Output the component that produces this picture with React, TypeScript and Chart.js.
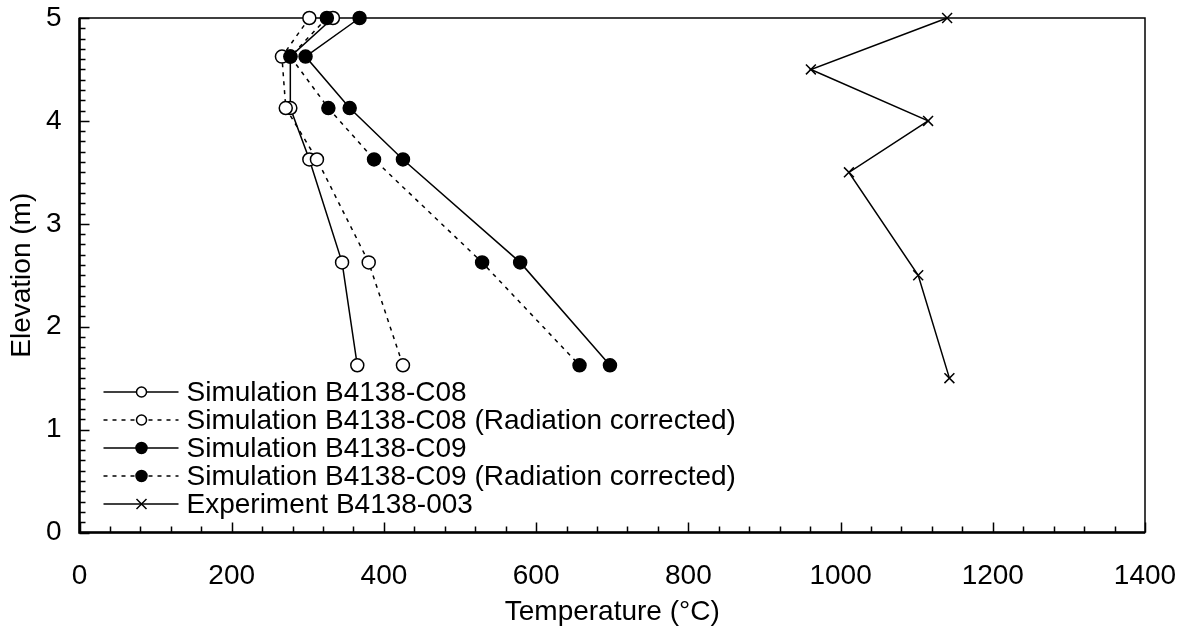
import React, { useEffect, useRef } from "react";
import { Chart, registerables } from "chart.js";
Chart.register(...registerables);

// ---- data ----
const elevSim = [5.0, 4.625, 4.125, 3.625, 2.625, 1.625];
const tempC08 = [333, 277, 277, 302, 345, 365];
const tempC08Rad = [302, 266, 271, 312, 380, 425];
const tempC09 = [368, 297, 355, 425, 579, 697];
const tempC09Rad = [325, 277, 327, 387, 529, 657];
const elevExp = [5.0, 4.5, 4.0, 3.5, 2.5, 1.5];
const tempExp = [1140, 961, 1115, 1011, 1102, 1143];

const seriesNames = [
  "Simulation B4138-C08",
  "Simulation B4138-C08 (Radiation corrected)",
  "Simulation B4138-C09",
  "Simulation B4138-C09 (Radiation corrected)",
  "Experiment B4138-003",
];

const xTicks = [0, 200, 400, 600, 800, 1000, 1200, 1400];
const yTicks = [0, 1, 2, 3, 4, 5];

const FAMILY = "'Liberation Sans', Arial, sans-serif";
const FS = 28;

const pts = (t: number[], e: number[]) => t.map((x, i) => ({ x, y: e[i] }));

export default function App() {
  const ref = useRef<HTMLCanvasElement>(null);
  useEffect(() => {
    document.body.style.margin = "0";
    const canvas = ref.current!;

    const dotted = [4, 5];
    const styles = [
      { dash: [] as number[], style: "circle", bg: "#fff" },
      { dash: dotted, style: "circle", bg: "#fff" },
      { dash: [] as number[], style: "circle", bg: "#000" },
      { dash: dotted, style: "circle", bg: "#000" },
      { dash: [] as number[], style: "crossRot", bg: "#000" },
    ];
    const datas = [
      pts(tempC08, elevSim),
      pts(tempC08Rad, elevSim),
      pts(tempC09, elevSim),
      pts(tempC09Rad, elevSim),
      pts(tempExp, elevExp),
    ];

    const framePlugin = {
      id: "frameTicks",
      beforeDatasetsDraw(chart: any) {
        const { ctx, chartArea: a, scales } = chart;
        const xs = scales.x, ys = scales.y;
        ctx.save();
        ctx.strokeStyle = "#000";
        ctx.lineWidth = 1.5;
        ctx.beginPath();
        for (let v = 0; v <= 1400 + 1e-6; v += 40) {
          const px = Math.round(xs.getPixelForValue(v)) + 0.5;
          const major = Math.abs(v / 200 - Math.round(v / 200)) < 1e-6;
          const len = major ? 10 : 6;
          ctx.moveTo(px, a.bottom);
          ctx.lineTo(px, a.bottom - len);
        }
        for (let k = 0; k <= 50; k++) {
          const v = k / 10;
          const py = Math.round(ys.getPixelForValue(v)) + 0.5;
          const len = k % 10 === 0 ? 10 : 6;
          ctx.moveTo(a.left, py);
          ctx.lineTo(a.left + len, py);
        }
        ctx.stroke();
        ctx.lineWidth = 1.5;
        ctx.strokeRect(a.left, a.top, a.right - a.left, a.bottom - a.top);
        ctx.lineWidth = 2.5;
        ctx.beginPath();
        ctx.moveTo(a.left, a.top);
        ctx.lineTo(a.left, a.bottom);
        ctx.lineTo(a.right, a.bottom);
        ctx.stroke();
        ctx.restore();
      },
    };

    const legendPlugin = {
      id: "customLegend",
      afterDatasetsDraw(chart: any) {
        const { ctx, chartArea: a } = chart;
        ctx.save();
        const x0 = a.left + 24;
        const x1 = a.left + 99;
        const xm = a.left + 62;
        const tx = a.left + 107;
        chart.data.datasets.forEach((ds: any, i: number) => {
          const y = a.bottom - 140.5 + i * 28;
          ctx.strokeStyle = "#000";
          ctx.lineWidth = 1.5;
          ctx.setLineDash(ds.borderDash || []);
          ctx.beginPath();
          ctx.moveTo(x0, y);
          ctx.lineTo(x1, y);
          ctx.stroke();
          ctx.setLineDash([]);
          if (ds.pointStyle === "crossRot") {
            const r = 5;
            ctx.beginPath();
            ctx.moveTo(xm - r, y - r);
            ctx.lineTo(xm + r, y + r);
            ctx.moveTo(xm - r, y + r);
            ctx.lineTo(xm + r, y - r);
            ctx.stroke();
          } else {
            ctx.beginPath();
            ctx.arc(xm, y, ds.pointBackgroundColor === "#fff" ? 5 : 5.5, 0, Math.PI * 2);
            ctx.fillStyle = ds.pointBackgroundColor;
            ctx.fill();
            ctx.stroke();
          }
          ctx.fillStyle = "#000";
          ctx.font = `${FS}px ${FAMILY}`;
          ctx.textBaseline = "middle";
          ctx.textAlign = "left";
          ctx.fillText(ds.label, tx, y + 1);
        });
        ctx.restore();
      },
    };

    const chart = new Chart(canvas, {
      type: "scatter",
      data: {
        datasets: datas.map((d, i) => ({
          label: seriesNames[i],
          data: d,
          showLine: true,
          borderColor: "#000",
          borderWidth: 1.5,
          borderDash: styles[i].dash,
          pointStyle: styles[i].style as any,
          pointRadius: styles[i].style === "crossRot" ? 7 : 6.5,
          pointBorderColor: "#000",
          pointBorderWidth: 1.5,
          pointBackgroundColor: styles[i].bg,
          clip: false as any,
          order: 5 - i,
        })),
      },
      options: {
        animation: false,
        responsive: false,
        events: [],
        layout: { padding: { top: 18, right: 40, left: 0, bottom: 0 } },
        plugins: { legend: { display: false }, tooltip: { enabled: false } },
        scales: {
          x: {
            type: "linear",
            min: 0,
            max: 1400,
            afterBuildTicks: (s: any) => {
              s.ticks = xTicks.map((v) => ({ value: v }));
            },
            afterFit: (s: any) => {
              s.height = 97.5;
              s.paddingLeft = 0;
              s.paddingRight = 0;
            },
            grid: { display: false, drawTicks: false },
            border: { display: false },
            ticks: {
              color: "#000",
              font: { family: FAMILY, size: FS },
              padding: 27,
              maxRotation: 0,
              callback: (v: any) => String(v),
            },
            title: {
              display: true,
              text: "Temperature (°C)",
              color: "#000",
              font: { family: FAMILY, size: FS },
              padding: { top: 0, bottom: 1 },
            },
          },
          y: {
            type: "linear",
            min: 0,
            max: 5,
            afterBuildTicks: (s: any) => {
              s.ticks = yTicks.map((v) => ({ value: v }));
            },
            afterFit: (s: any) => {
              s.width = 79.5;
              s.paddingTop = 0;
              s.paddingBottom = 0;
            },
            grid: { display: false, drawTicks: false },
            border: { display: false },
            ticks: {
              color: "#000",
              font: { family: FAMILY, size: FS },
              padding: 18,
              callback: (v: any) => String(v),
            },
            title: {
              display: true,
              text: "Elevation (m)",
              color: "#000",
              font: { family: FAMILY, size: FS },
              padding: { top: 5, bottom: 0 },
            },
          },
        },
      },
      plugins: [framePlugin, legendPlugin],
    });
    return () => chart.destroy();
  }, []);

  return (
    <div style={{ width: 1185, height: 630, background: "#fff" }}>
      <canvas ref={ref} width={1185} height={630} />
    </div>
  );
}
